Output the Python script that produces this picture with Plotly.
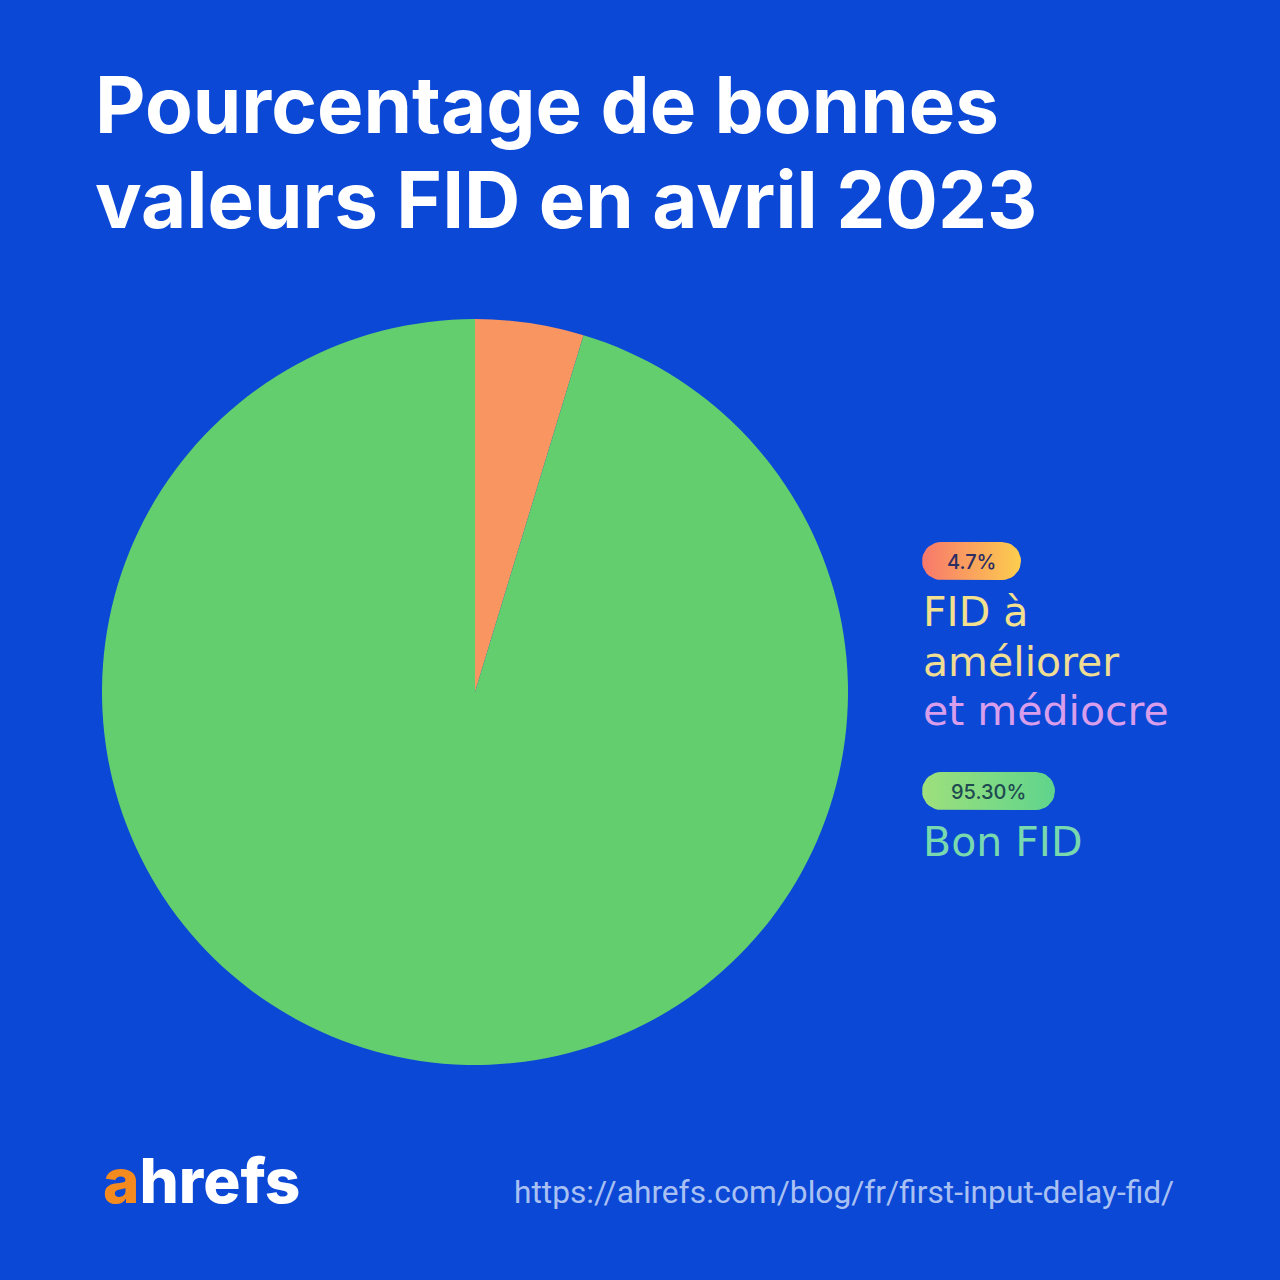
import math
import plotly.graph_objects as go

# Data
labels = ["FID à améliorer et médiocre", "Bon FID"]
values = [4.7, 95.3]
pill_texts = ["4.7%", "95.30%"]
slice_colors = ["#F99560", "#63CE6E"]

BG = "#0C48D6"
W = H = 1280

fig = go.Figure()

fig.add_trace(go.Pie(
    labels=labels, values=values, sort=False, direction="clockwise", rotation=0,
    marker=dict(colors=slice_colors, line=dict(width=0)),
    textinfo="none", hoverinfo="label+percent", showlegend=False,
    domain=dict(x=[102 / W, 848 / W], y=[(H - 1069) / H, (H - 315) / H]),
))


def pill(x0, x1, y0, y1, c0, c1, name):
    r = (y1 - y0) / 2
    xs, ys = [], []
    for i in range(0, 181, 10):
        a = math.radians(-90 + i)
        xs.append(x1 - r + r * math.cos(a)); ys.append((y0 + y1) / 2 + r * math.sin(a))
    for i in range(0, 181, 10):
        a = math.radians(90 + i)
        xs.append(x0 + r + r * math.cos(a)); ys.append((y0 + y1) / 2 + r * math.sin(a))
    xs.append(xs[0]); ys.append(ys[0])
    fig.add_trace(go.Scatter(
        x=xs, y=ys, mode="lines", fill="toself", line=dict(width=0),
        fillgradient=dict(type="horizontal", colorscale=[[0, c0], [1, c1]]),
        xaxis="x", yaxis="y", hoverinfo="skip", showlegend=False, name=name,
    ))


pill(922, 1021, 542, 580, "#F8786C", "#FCCE4E", "p1")
pill(922, 1055, 772, 810, "#9EE07C", "#5FD48C", "p2")

fig.update_layout(
    width=W, height=H, margin=dict(l=0, r=0, t=0, b=0),
    paper_bgcolor=BG, plot_bgcolor="rgba(0,0,0,0)",
    xaxis=dict(range=[0, W], visible=False, domain=[0, 1], fixedrange=True),
    yaxis=dict(range=[H, 0], visible=False, domain=[0, 1], fixedrange=True),
    font=dict(family="Inter, Noto Sans, sans-serif"),
)


def txt(x, y, s, size, color, weight=400, family="Inter", xanchor="left"):
    fig.add_annotation(x=x / W, y=1 - y / H, xref="paper", yref="paper", text=s,
                       showarrow=False, xanchor=xanchor, yanchor="middle",
                       font=dict(size=size, color=color, family=family, weight=weight))


# Title
txt(93, 104, "Pourcentage de bonnes", 78, "white", 700)
txt(93, 199, "valeurs FID en avril 2023", 78, "white", 700)

# Legend text
txt(971, 562, pill_texts[0], 20, "#2B2D63", 500, xanchor="center")
txt(988, 792, pill_texts[1], 20, "#1E4A50", 500, xanchor="center")
txt(921, 612, "FID à", 41, "#F2E08E", 400, family="DejaVu Sans")
txt(921, 662, "améliorer", 41, "#EEDD92", 400, family="DejaVu Sans")
txt(921, 711, "et médiocre", 41, "#D99EEB", 400, family="DejaVu Sans")
txt(921, 842, "Bon FID", 41, "#78D8AE", 400, family="DejaVu Sans")

# Footer
txt(101, 1180, "<span style='color:#F58A1F'>a</span>hrefs", 62, "white", 800)
txt(1176, 1192, "https://ahrefs.com/blog/fr/first-input-delay-fid/", 31.7, "#A9C1F2", 400,
    family="Roboto", xanchor="right")

fig.write_html("out.html")
